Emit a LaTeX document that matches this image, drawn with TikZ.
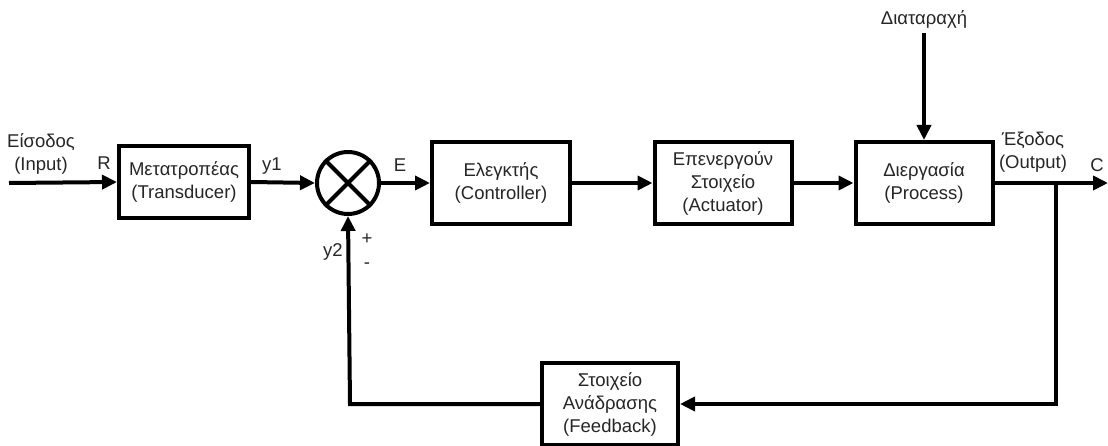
\documentclass[tikz,border=0pt]{standalone}
\usepackage{fontspec}
\setmainfont{Liberation Sans}
\usetikzlibrary{arrows.meta,calc}
\begin{document}
\begin{tikzpicture}[x=1pt,y=-1pt,
  every node/.style={font=\fontsize{18.5}{23}\selectfont, text=black!85, inner sep=0pt},
  blockbox/.style={draw=black, line width=4pt, align=center, text=black!85},
  conn/.style={line width=4pt, draw=black},
  arr/.style={conn, -{Triangle[length=15pt,width=14pt]}},
  lbl/.style={align=center}
]
\useasboundingbox (0,0) rectangle (1108,446);
\fill[white] (0,0) rectangle (1108,446);

\node[blockbox, minimum width=130pt, minimum height=72pt] (trans) at (184,182) {Μετατροπέας\\(Transducer)};
\node[draw=black, line width=4pt, circle, minimum size=62pt] (sum) at (348,183) {};
\draw[conn] (sum.45) -- (sum.225);
\draw[conn] (sum.135) -- (sum.315);
\node[blockbox, minimum width=138pt, minimum height=82pt] (ctrl) at (501,183) {Ελεγκτής\\(Controller)};
\node[blockbox, minimum width=137pt, minimum height=82pt] (act) at (723,183) {Επενεργούν\\Στοιχείο\\(Actuator)};
\node[blockbox, minimum width=137pt, minimum height=82pt] (proc) at (924,183) {Διεργασία\\(Process)};
\node[blockbox, minimum width=136pt, minimum height=82pt] (fb) at (610,404) {Στοιχείο\\Ανάδρασης\\(Feedback)};

\coordinate (in) at (9,183);
\coordinate (out) at (1108,183);
\coordinate (branch) at (1056,183);
\coordinate (fbr) at (1056,404);
\coordinate (fbl) at (350,404);
\coordinate (dist) at (924,33);

\node[lbl] (dlabel) at (924,19) {Διαταραχή};
\node[lbl] (inlabel) at (41,154) {Είσοδος\\(Input)};
\node (rlabel) at (104,163) {R};
\node (y1label) at (272,166) {y1};
\node (elabel) at (400,165) {E};
\node (y2label) at (333,252) {y2};
\node (plus) at (367,239) {+};
\node (minus) at (367,266) {-};
\node[lbl] (outlabel) at (1033,152) {Έξοδος\\(Output)};
\node (clabel) at (1097,165) {C};

\draw[arr] (in) -- (trans.west);
\draw[arr] (trans.east) -- (sum.west);
\draw[arr] (sum.east) -- (ctrl.west);
\draw[arr] (ctrl.east) -- (act.west);
\draw[arr] (act.east) -- (proc.west);
\draw[arr] (dist) -- (proc.north);
\draw[arr] (proc.east) -- (out);
\draw[arr] (branch) -- (fbr) -- (fb.east);
\draw[arr] (fb.west) -- (fbl) -- (sum.south);
\end{tikzpicture}
\end{document}
